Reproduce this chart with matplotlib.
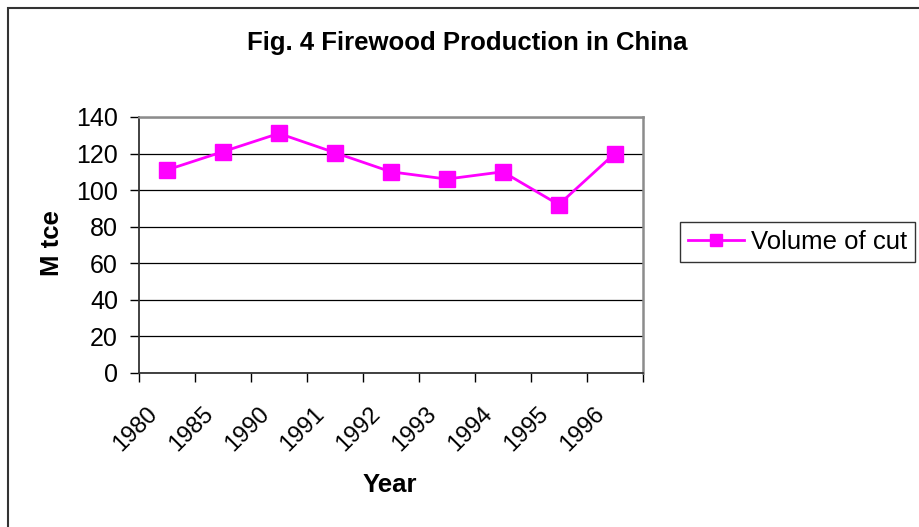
import matplotlib.pyplot as plt
import matplotlib.transforms as mtransforms
from matplotlib.patches import Rectangle
import numpy as np

plt.rcParams["font.family"] = ["Liberation Sans", "DejaVu Sans"]

years = ["1980", "1985", "1990", "1991", "1992", "1993", "1994", "1995", "1996"]
volume_of_cut = [111, 121, 131, 120.5, 110, 106, 110, 92, 120]

FS = 18.5

fig = plt.figure(figsize=(9.2, 5.27), dpi=100)
# outer chart frame, runs off the right and bottom edges
fig.patches.append(Rectangle((8 / 920, -0.1), 1.2, 1 - 8 / 527 + 0.1,
                             transform=fig.transFigure, fill=False,
                             edgecolor="#333333", linewidth=1.5))

ax = fig.add_axes([0.151, 0.2928, 0.5476, 0.4852])
x = np.arange(len(years))
ax.plot(x, volume_of_cut, color="#ff00ff", linewidth=2, marker="s",
        markersize=11, label="Volume of cut", zorder=3)

ax.set_xlim(-0.5, len(years) - 0.5)
ax.set_ylim(0, 140)
ax.set_yticks(range(0, 141, 20))
ax.yaxis.grid(True, color="black", linewidth=0.9)
ax.set_axisbelow(True)

ax.set_xticks(x)
ax.set_xticklabels(years, rotation=45, ha="right", rotation_mode="anchor")
ax.set_xticks(np.arange(-0.5, len(years)), minor=True)
ax.tick_params(axis="x", which="major", length=0, pad=0, labelsize=17)
ax.tick_params(axis="x", which="minor", length=6.5, width=1, direction="out")
ax.tick_params(axis="y", length=6.5, width=1, direction="out", labelsize=18, pad=8.5)

# year labels sit left of and below their category
shift = mtransforms.ScaledTranslation(-0.21, -0.30, fig.dpi_scale_trans)
for lab in ax.get_xticklabels():
    lab.set_transform(lab.get_transform() + shift)

for side in ("top", "right"):
    ax.spines[side].set_color("#8c8c8c")
    ax.spines[side].set_linewidth(1.8)
for side in ("left", "bottom"):
    ax.spines[side].set_color("#333333")
    ax.spines[side].set_linewidth(1.3)

ax.set_xlabel("Year", fontsize=FS, fontweight="bold", va="center")
ax.xaxis.set_label_coords(0.498, -0.438)
ax.set_ylabel("M tce", fontsize=FS, fontweight="bold", va="center")
ax.yaxis.set_label_coords(-0.172, 0.507)
fig.text(467 / 920, 1 - 43 / 527, "Fig. 4 Firewood Production in China",
         ha="center", va="center", fontsize=FS, fontweight="bold")

leg = fig.legend(loc="center left", bbox_to_anchor=(680 / 920, 1 - 242 / 527),
                 fontsize=FS, frameon=True, fancybox=False, handlelength=2.2,
                 borderpad=0.3, handletextpad=0.27, markerscale=0.8,
                 borderaxespad=0)
leg.get_frame().set_edgecolor("black")
leg.get_frame().set_linewidth(1)

fig.savefig("out.png", dpi=100)
